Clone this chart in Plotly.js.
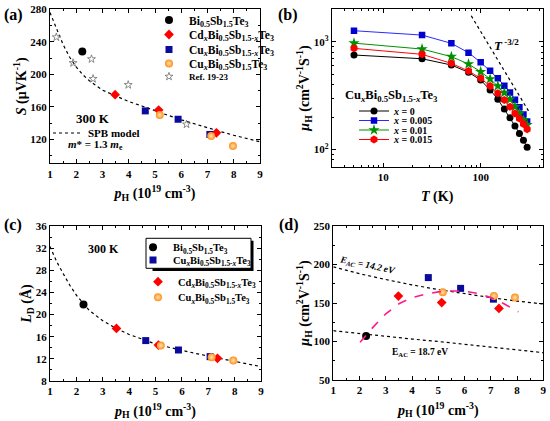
<!DOCTYPE html>
<html><head><meta charset="utf-8">
<script src="https://cdn.plot.ly/plotly-3.0.1.min.js"></script>
<style>html,body{margin:0;padding:0;background:#fff}#chart{width:550px;height:421px}</style>
</head><body><div id="chart"></div><script>
// ---------- panel (a): Seebeck vs pH ----------
const pA_bst = [2.23];                 const sA_bst = [228];
const pA_cd  = [3.48, 5.14, 7.34];     const sA_cd  = [175, 156, 128];
const pA_cux = [4.63, 5.88, 7.09];     const sA_cux = [155, 144.7, 126];
const pA_cu  = [5.18, 7.14, 7.97];     const sA_cu  = [150, 124, 111.7];
const pA_ref = [1.24, 1.88, 2.58, 2.64, 3.98, 6.2];
const sA_ref = [245.7, 214, 218.8, 194.5, 187, 138.5];
const pA_spb = [1, 1.25, 1.5, 1.75, 2, 2.25, 2.5, 3, 3.5, 4, 4.5, 5, 5.5, 6, 6.5, 7, 7.5, 8, 8.5, 9];
const sA_spb = [276, 255, 236.5, 221, 209, 199.5, 192, 180.5, 173.5, 166.5, 161, 155, 149.5, 144, 139, 134, 129.5, 125, 121, 117];

// ---------- panel (b): mobility vs T ----------
const T_b = [5, 25, 50, 75, 100, 125, 150, 175, 200, 225, 250, 275, 300];
const mu_x0    = [753, 695, 608, 520, 441, 357, 293, 238, 197, 165, 141, 122, 105];
const mu_x005  = [1265, 1153, 966, 791, 644, 538, 457, 390, 338, 290, 246, 211, 182];
const mu_x01   = [970, 855, 727, 621, 526, 451, 388, 336, 292, 249, 216, 188, 169];
const mu_x015  = [868, 764, 630, 535, 457, 388, 332, 288, 249, 216, 194, 172, 154];
const T_guide  = [80, 322];
const mu_guide = [1740, 215];

// ---------- panel (c): Debye length vs pH ----------
const pC_bst = [2.27];               const lC_bst = [21.8];
const pC_cux = [4.63, 5.87, 7.07];   const lC_cux = [15.3, 13.6, 12.4];
const pC_cd  = [3.52, 5.11, 7.35];   const lC_cd  = [17.5, 14.5, 12.1];
const pC_cu  = [5.2, 7.13, 7.95];    const lC_cu  = [14.4, 12.3, 11.7];
const pC_fit = [1, 1.25, 1.5, 1.75, 2, 2.25, 2.5, 3, 3.5, 4, 4.5, 5, 5.5, 6, 6.5, 7, 7.5, 8, 8.5, 9];
const lC_fit = [32.3, 29.6, 27.4, 25.3, 23.5, 22.0, 20.7, 18.9, 17.5, 16.4, 15.5, 14.7, 14.1, 13.5, 13.0, 12.5, 12.0, 11.5, 11.1, 10.6];

// ---------- panel (d): mobility vs pH ----------
const pD_bst = [2.25];               const mD_bst = [107];
const pD_cd  = [3.48, 5.13, 7.31];   const mD_cd  = [159, 150.5, 143];
const pD_cux = [4.62, 5.85, 7.1];    const mD_cux = [183, 169, 155];
const pD_cu  = [5.17, 7.12, 7.92];   const mD_cu  = [164, 159, 157];
const pD_line = [1, 2, 3, 4, 5, 6, 7, 8, 9];
const mD_e142 = [197, 188, 180.5, 173.5, 167.5, 162, 157, 152.5, 148.7];
const mD_e187 = [114, 110.2, 106.6, 103.2, 100, 96.6, 93.2, 89.4, 85.5];
const pD_fit = [2.02, 2.5, 3, 3.5, 4, 4.5, 5, 5.5, 6, 6.5, 7, 7.5, 8.05];
const mD_fit = [99, 118, 136, 149, 157, 161.5, 164.4, 165.5, 165.5, 162.5, 157, 149, 138.5];

// ---------- names ----------
const N_BST = 'Bi<sub>0.5</sub>Sb<sub>1.5</sub>Te<sub>3</sub>';
const N_CD  = 'Cd<sub><i>x</i></sub>Bi<sub>0.5</sub>Sb<sub>1.5-<i>x</i></sub>Te<sub>3</sub>';
const N_CUX = 'Cu<sub><i>x</i></sub>Bi<sub>0.5</sub>Sb<sub>1.5-<i>x</i></sub>Te<sub>3</sub>';
const N_CU  = 'Cu<sub><i>x</i></sub>Bi<sub>0.5</sub>Sb<sub>1.5</sub>Te<sub>3</sub>';
const xLabels = ['<i>x</i> = 0', '<i>x</i> = 0.005', '<i>x</i> = 0.01', '<i>x</i> = 0.015'];

const FONT = '"Liberation Serif", "Times New Roman", serif';
const BLACK = '#000000', RED = '#ff0000', NAVY = '#0a0a9c', ORANGE = '#ff8c1a', GREEN = '#009000', BLUE = '#0000d0';

const mk = {
  bst: {symbol:'circle', size:8, color:BLACK},
  cd:  {symbol:'diamond', size:7.5, color:RED},
  cux: {symbol:'square', size:7, color:NAVY},
  cu:  {symbol:'circle', size:8, color:ORANGE, gradient:{type:'radial', color:'#ffe6b0'}}
};

function pts(x, y, name, marker, xa, ya, legend, show){
  return {type:'scatter', mode:'markers', x:x, y:y, name:name, marker:marker,
          xaxis:xa, yaxis:ya, legend:legend, showlegend:show, cliponaxis:false};
}
function dotted(x, y, xa, ya, color, dash, width, name, legend, show){
  return {type:'scatter', mode:'lines', x:x, y:y, name:name||'', line:{color:color, dash:dash, width:width},
          xaxis:xa, yaxis:ya, legend:legend||'legend', showlegend:!!show, hoverinfo:'skip'};
}

const traces = [
  // (a)
  dotted(pA_spb, sA_spb, 'x', 'y', BLACK, 'dot', 1.2, 'SPB model', 'legend6', true),
  pts(pA_ref, sA_ref, 'Ref. 19-23', {symbol:'star-open', size:6, color:'#707070', line:{width:0.8}}, 'x', 'y', 'legend5', true),
  pts(pA_bst, sA_bst, N_BST, mk.bst, 'x', 'y', 'legend', true),
  pts(pA_cd,  sA_cd,  N_CD,  mk.cd,  'x', 'y', 'legend2', true),
  pts(pA_cux, sA_cux, N_CUX, mk.cux, 'x', 'y', 'legend3', true),
  pts(pA_cu,  sA_cu,  N_CU,  mk.cu,  'x', 'y', 'legend4', true),
  // (b)
  dotted(T_guide, mu_guide, 'x2', 'y2', BLACK, 'dot', 1.2),
  {type:'scatter', mode:'lines+markers', x:T_b, y:mu_x0, name:xLabels[0], xaxis:'x2', yaxis:'y2', legend:'legend7',
   line:{color:BLACK, width:1}, marker:{symbol:'circle', size:7, color:BLACK}},
  {type:'scatter', mode:'lines+markers', x:T_b, y:mu_x005, name:xLabels[1], xaxis:'x2', yaxis:'y2', legend:'legend8',
   line:{color:'#2a2aff', width:1}, marker:{symbol:'square', size:6.5, color:BLUE}},
  {type:'scatter', mode:'lines+markers', x:T_b, y:mu_x01, name:xLabels[2], xaxis:'x2', yaxis:'y2', legend:'legend9',
   line:{color:GREEN, width:1}, marker:{symbol:'star', size:8.5, color:GREEN}},
  {type:'scatter', mode:'lines+markers', x:T_b, y:mu_x015, name:xLabels[3], xaxis:'x2', yaxis:'y2', legend:'legend10',
   line:{color:RED, width:1}, marker:{symbol:'hexagon', size:8, color:RED}},
  // (c)
  dotted(pC_fit, lC_fit, 'x3', 'y3', BLACK, 'dot', 1.2),
  pts(pC_bst, lC_bst, N_BST, mk.bst, 'x3', 'y3', 'legend11', true),
  pts(pC_cux, lC_cux, N_CUX, mk.cux, 'x3', 'y3', 'legend12', true),
  pts(pC_cd,  lC_cd,  N_CD,  mk.cd,  'x3', 'y3', 'legend13', true),
  pts(pC_cu,  lC_cu,  N_CU,  mk.cu,  'x3', 'y3', 'legend14', true),
  // (d)
  dotted(pD_line, mD_e142, 'x4', 'y4', BLACK, 'dot', 1.2),
  dotted(pD_line, mD_e187, 'x4', 'y4', BLACK, 'dot', 1.2),
  pts(pD_cux, mD_cux, N_CUX, mk.cux, 'x4', 'y4', 'legend', false),
  pts(pD_cd,  mD_cd,  N_CD,  mk.cd,  'x4', 'y4', 'legend', false),
  pts(pD_cu,  mD_cu,  N_CU,  mk.cu,  'x4', 'y4', 'legend', false),
  pts(pD_bst, mD_bst, N_BST, mk.bst, 'x4', 'y4', 'legend', false),
  dotted(pD_fit, mD_fit, 'x4', 'y4', '#ff1a8c', 'dash', 1.6)
];

const tickfont = {family:FONT, size:11, color:BLACK, weight:'bold'};
function ax(extra){
  return Object.assign({showline:true, linecolor:BLACK, linewidth:1, mirror:'ticks', ticks:'inside', ticklen:4,
    tickwidth:1, tickcolor:BLACK, showgrid:false, zeroline:false, tickfont:tickfont, automargin:false, fixedrange:true}, extra);
}
function ttl(text, standoff, size){ return {text:text, standoff:standoff, font:{family:FONT, size:size||14, color:BLACK, weight:'bold'}}; }
function minor(d){ return {ticks:'inside', ticklen:2, dtick:d, tickcolor:BLACK, tickwidth:1, showgrid:false}; }

const W = 550, H = 421;
const px = v => v / W, py = v => 1 - v / H;
function leg(x, y, size){
  return {x:px(x - 20), y:py(y), xanchor:'left', yanchor:'middle', bgcolor:'rgba(0,0,0,0)', borderwidth:0,
          font:{family:FONT, size:size||11, color:BLACK, weight:'bold'}, itemwidth:30};
}
function ann(text, x, y, size, extra){
  return Object.assign({text:text, xref:'paper', yref:'paper', x:px(x), y:py(y), showarrow:false,
    xanchor:'center', yanchor:'middle', font:{family:FONT, size:size, color:BLACK, weight:'bold'}}, extra||{});
}
const PH_TITLE = '<i>p</i><sub>H</sub> (10<sup>19</sup> cm<sup>-3</sup>)';
const MU_TITLE = '<i>μ</i><sub>H</sub> (cm<sup>2</sup>V<sup>-1</sup>S<sup>-1</sup>)';

const layout = {
  width:W, height:H, margin:{l:0, r:0, t:0, b:0}, paper_bgcolor:'#fff', plot_bgcolor:'#fff',
  font:{family:FONT, color:BLACK, weight:'bold'},
  showlegend:true,
  xaxis:  ax({domain:[px(50), px(260)], range:[1, 9], dtick:1, minor:minor(0.5), title:ttl(PH_TITLE, 9), anchor:'y'}),
  yaxis:  ax({domain:[py(163.3), py(9.3)], range:[90.5, 280], dtick:40, tick0:0, minor:minor(20), title:ttl('<i>S</i> (μVK<sup>-1</sup>)', 0), anchor:'x'}),
  xaxis2: ax({domain:[px(331.7), px(542.7)], type:'log', range:[0.47, 2.637], tickvals:[10, 100], ticktext:['10', '100'],
              minor:{ticks:'inside', ticklen:2, tickcolor:BLACK, tickvals:[4,5,6,7,8,9,20,30,40,50,60,70,80,90,200,300,400], showgrid:false},
              title:ttl('<i>T</i> (K)', 9), anchor:'y2'}),
  yaxis2: ax({domain:[py(166.7), py(9.3)], type:'log', range:[1.84, 3.301], tickvals:[100, 1000], ticktext:['10<sup>2</sup>', '10<sup>3</sup>'],
              minor:{ticks:'inside', ticklen:2, tickcolor:BLACK, tickvals:[70,80,90,200,300,400,500,600,700,800,900,2000], showgrid:false},
              title:ttl(MU_TITLE, 0), anchor:'x2'}),
  xaxis3: ax({domain:[px(50), px(261)], range:[1, 9], dtick:1, minor:minor(0.5), title:ttl(PH_TITLE, 9), anchor:'y3'}),
  yaxis3: ax({domain:[py(381), py(226)], range:[8, 36], dtick:4, tick0:0, minor:minor(2), title:ttl('<i>L</i><sub>D</sub> (Å)', 0), anchor:'x3'}),
  xaxis4: ax({domain:[px(333.3), px(543.3)], range:[1, 9], dtick:1, minor:minor(0.5), title:ttl(PH_TITLE, 9), anchor:'y4'}),
  yaxis4: ax({domain:[py(380), py(226)], range:[50, 250], dtick:50, tick0:0, minor:minor(25), title:ttl(MU_TITLE, 0), anchor:'x4'}),
  // (a) legends, one entry each so the rows sit where the reference puts them
  legend:   leg(169, 20, 11.5),
  legend2:  leg(169, 34.5, 11.5),
  legend3:  leg(169, 49.5, 11.5),
  legend4:  leg(169, 63.5, 11.5),
  legend5:  leg(169, 76.5, 9),
  legend6:  leg(68, 133),
  // (b)
  legend7:  leg(374, 111, 10),
  legend8:  leg(374, 120.5, 10),
  legend9:  leg(374, 130, 10),
  legend10: leg(374, 139.5, 10),
  // (c)
  legend11: leg(153, 247.3, 10.5),
  legend12: leg(153, 260, 10.5),
  legend13: leg(158, 281.7, 10.5),
  legend14: leg(158, 297.3, 10.5),
  shapes: [
    {type:'rect', xref:'paper', yref:'paper', x0:px(152.5), x1:px(253.5), y0:py(271), y1:py(240.8), fillcolor:BLACK, line:{width:0}},
    {type:'rect', xref:'paper', yref:'paper', x0:px(146), x1:px(251), y0:py(268.3), y1:py(238.3), fillcolor:'#fff', line:{color:BLACK, width:1}}
  ],
  annotations: [
    ann('(a)', 13, 15, 16), ann('(b)', 288, 15, 16), ann('(c)', 13, 225, 16), ann('(d)', 289, 225, 16),
    ann('300 K', 93, 118, 13),
    ann('<i>m</i>* = 1.3 <i>m</i><sub>e</sub>', 95, 145.5, 11),
    ann('<i>T</i><sup> -3/2</sup>', 506, 45, 13),
    ann('Cu<sub><i>x</i></sub>Bi<sub>0.5</sub>Sb<sub>1.5-<i>x</i></sub>Te<sub>3</sub>', 391.5, 96, 12.5),
    ann('300 K', 103, 249, 12),
    ann('<i>E</i><sub><i>AC</i></sub><i> = 14.2 eV</i>', 367, 265, 9.5, {textangle:12}),
    ann('E<sub>AC</sub> = 18.7 eV', 420, 352, 9.5)
  ]
};

Plotly.newPlot('chart', traces, layout, {staticPlot:true, displayModeBar:false});
</script></body></html>
